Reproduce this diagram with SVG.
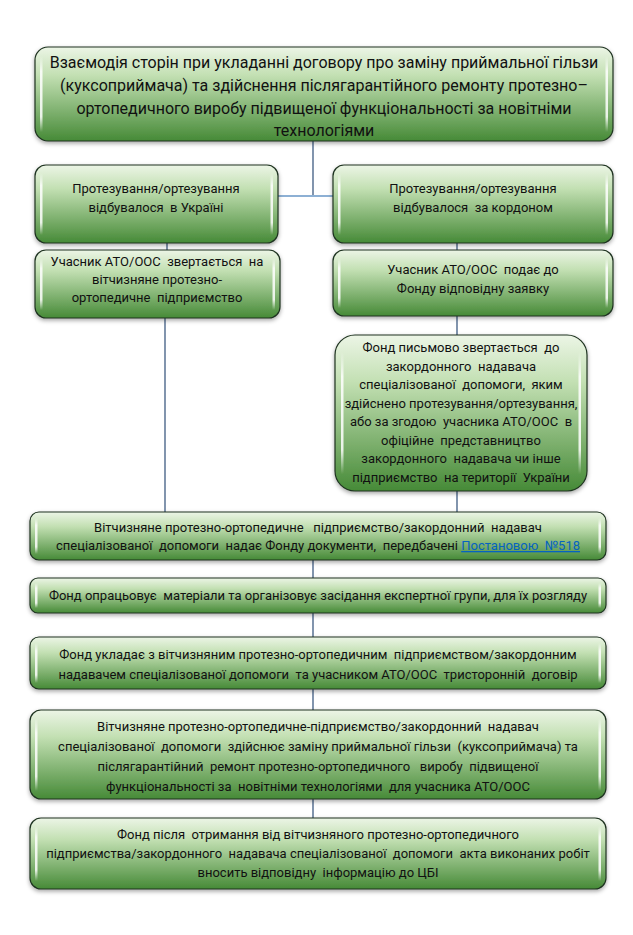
<svg xmlns="http://www.w3.org/2000/svg" width="633" height="935" viewBox="0 0 633 935">
<style>
.box{fill:url(#g);stroke:#1f3320;stroke-width:1.2;filter:url(#sh)}
.gl{fill:url(#gloss)}
.t{font-family:Roboto,"Noto Sans",sans-serif;font-size:13px;fill:#111;text-anchor:middle;white-space:pre}
.tt{font-size:16px}
.ln{stroke:#3e5b82;stroke-width:1.3;fill:none}
.lh{stroke:#8db0d4;stroke-width:2;fill:none}
.a{fill:#0563c1;text-decoration:underline}
</style>
<defs>
<linearGradient id="g" x1="0" y1="0" x2="0" y2="1">
<stop offset="0" stop-color="#ecf5e6"/>
<stop offset="0.3" stop-color="#c3e0b3"/>
<stop offset="1" stop-color="#468a37"/>
</linearGradient>
<linearGradient id="gloss" x1="0" y1="0" x2="0" y2="1">
<stop offset="0" stop-color="#fff" stop-opacity="0"/>
<stop offset="0.2" stop-color="#fff" stop-opacity="0.85"/>
<stop offset="0.8" stop-color="#fff" stop-opacity="0.85"/>
<stop offset="1" stop-color="#fff" stop-opacity="0"/>
</linearGradient>
<filter id="sh" x="-5%" y="-10%" width="110%" height="130%">
<feDropShadow dx="0" dy="2" stdDeviation="2" flood-color="#000" flood-opacity="0.35"/>
</filter>
</defs>
<g id="connectors">
<path class="ln" d="M313 141V195"/>
<path class="lh" d="M278 196H333"/>
<path class="ln" d="M167 243V250"/>
<path class="ln" d="M457 243V250"/>
<path class="ln" d="M165 318V512"/>
<path class="ln" d="M457 316V335"/>
<path class="ln" d="M457 491V512"/>
<path class="ln" d="M313 560V578"/>
<path class="ln" d="M313 613V637"/>
<path class="ln" d="M313 689V710"/>
<path class="ln" d="M313 799V818"/>
</g>
<g id="n1">
<rect class="box" x="35" y="47" width="578" height="94" rx="13"/>
<rect class="gl" x="40" y="56" width="2.5" height="76"/><rect class="gl" x="605.5" y="56" width="2.5" height="76"/>
<text class="t tt" x="324" y="68">Взаємодія сторін при укладанні договору про заміну приймальної гільзи</text>
<text class="t tt" x="324" y="91">(куксоприймача) та здійснення післягарантійного ремонту протезно–</text>
<text class="t tt" x="324" y="114">ортопедичного виробу підвищеної функціональності за новітніми</text>
<text class="t tt" x="324" y="136">технологіями</text>
</g>
<g id="n2">
<rect class="box" x="35" y="165" width="243" height="78" rx="11"/>
<rect class="gl" x="40" y="173" width="2.5" height="62"/><rect class="gl" x="270.5" y="173" width="2.5" height="62"/>
<text class="t" x="156" y="193">Протезування/ортезування</text>
<text class="t" x="156" y="212">відбувалося  в Україні</text>
</g>
<g id="n3">
<rect class="box" x="333" y="165" width="280" height="78" rx="11"/>
<rect class="gl" x="338" y="173" width="2.5" height="62"/><rect class="gl" x="605.5" y="173" width="2.5" height="62"/>
<text class="t" x="473" y="193">Протезування/ортезування</text>
<text class="t" x="473" y="212">відбувалося  за кордоном</text>
</g>
<g id="n4">
<rect class="box" x="35" y="250" width="245" height="68" rx="11"/>
<rect class="gl" x="40" y="258" width="2.5" height="52"/><rect class="gl" x="272.5" y="258" width="2.5" height="52"/>
<text class="t" x="157" y="266">Учасник АТО/ООС  звертається  на</text>
<text class="t" x="157" y="284">вітчизняне протезно-</text>
<text class="t" x="157" y="302">ортопедичне  підприємство</text>
</g>
<g id="n5">
<rect class="box" x="333" y="250" width="280" height="66" rx="11"/>
<rect class="gl" x="338" y="258" width="2.5" height="50"/><rect class="gl" x="605.5" y="258" width="2.5" height="50"/>
<text class="t" x="473" y="274">Учасник АТО/ООС  подає до</text>
<text class="t" x="473" y="293">Фонду відповідну заявку</text>
</g>
<g id="n6">
<rect class="box" x="335" y="335" width="252" height="156" rx="20"/>
<rect class="gl" x="341" y="352" width="2.5" height="122"/><rect class="gl" x="578.5" y="352" width="2.5" height="122"/>
<text class="t" x="461" y="352">Фонд письмово звертається  до</text>
<text class="t" x="461" y="370.5">закордонного  надавача</text>
<text class="t" x="461" y="389">спеціалізованої  допомоги,  яким</text>
<text class="t" x="461" y="407.5">здійснено протезування/ортезування,</text>
<text class="t" x="461" y="426">або за згодою  учасника АТО/ООС  в</text>
<text class="t" x="461" y="444.5">офіційне  представництво</text>
<text class="t" x="461" y="463">закордонного  надавача чи інше</text>
<text class="t" x="461" y="481.5">підприємство  на території  України</text>
</g>
<g id="n7">
<rect class="box" x="30" y="512" width="576" height="48" rx="9"/>
<rect class="gl" x="35" y="518" width="2.5" height="36"/><rect class="gl" x="598.5" y="518" width="2.5" height="36"/>
<text class="t" x="318" y="532">Вітчизняне протезно-ортопедичне   підприємство/закордонний  надавач</text>
<text class="t" x="318" y="550">спеціалізованої  допомоги  надає Фонду документи,  передбачені <tspan class="a">Постановою  №518</tspan></text>
</g>
<g id="n8">
<rect class="box" x="30" y="578" width="576" height="35" rx="8"/>
<rect class="gl" x="35" y="583" width="2.5" height="25"/><rect class="gl" x="598.5" y="583" width="2.5" height="25"/>
<text class="t" x="318" y="600">Фонд опрацьовує  матеріали та організовує засідання експертної групи, для їх розгляду</text>
</g>
<g id="n9">
<rect class="box" x="30" y="637" width="576" height="52" rx="9"/>
<rect class="gl" x="35" y="643" width="2.5" height="40"/><rect class="gl" x="598.5" y="643" width="2.5" height="40"/>
<text class="t" x="318" y="659">Фонд укладає з вітчизняним протезно-ортопедичним  підприємством/закордонним</text>
<text class="t" x="318" y="679">надавачем спеціалізованої допомоги  та учасником АТО/ООС  тристоронній  договір</text>
</g>
<g id="n10">
<rect class="box" x="30" y="710" width="576" height="89" rx="11"/>
<rect class="gl" x="35" y="718" width="2.5" height="73"/><rect class="gl" x="598.5" y="718" width="2.5" height="73"/>
<text class="t" x="318" y="731">Вітчизняне протезно-ортопедичне-підприємство/закордонний  надавач</text>
<text class="t" x="318" y="751">спеціалізованої  допомоги  здійснює заміну приймальної гільзи  (куксоприймача) та</text>
<text class="t" x="318" y="771">післягарантійний  ремонт протезно-ортопедичного   виробу  підвищеної</text>
<text class="t" x="318" y="791">функціональності за  новітніми технологіями  для учасника АТО/ООС</text>
</g>
<g id="n11">
<rect class="box" x="30" y="818" width="576" height="71" rx="11"/>
<rect class="gl" x="35" y="826" width="2.5" height="55"/><rect class="gl" x="598.5" y="826" width="2.5" height="55"/>
<text class="t" x="318" y="839">Фонд після  отримання від вітчизняного протезно-ортопедичного</text>
<text class="t" x="318" y="858">підприємства/закордонного  надавача спеціалізованої  допомоги  акта виконаних робіт</text>
<text class="t" x="318" y="877">вносить відповідну  інформацію до ЦБІ</text>
</g>
</svg>
